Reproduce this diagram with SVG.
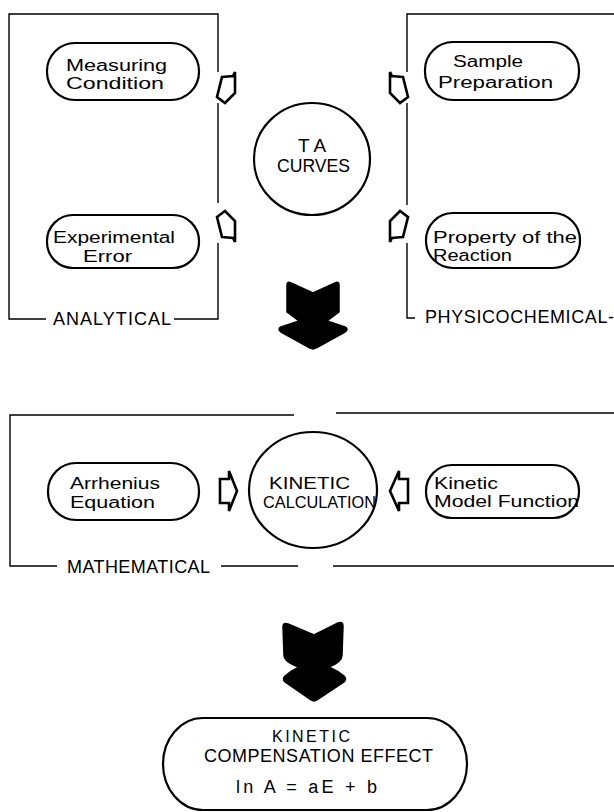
<svg xmlns="http://www.w3.org/2000/svg" width="614" height="812" viewBox="0 0 614 812">
<style>
.pill{fill:#fff;stroke:#000;stroke-width:2.2}
.frame{fill:none;stroke:#000;stroke-width:1.4}
.t{font-family:"Liberation Sans","DejaVu Sans",sans-serif;font-size:18px;fill:#000}
.s{font-size:16px}
.oa{fill:#fff;stroke:#000;stroke-width:2.6;stroke-linejoin:miter}
.ba{fill:#000;stroke:#000;stroke-width:1.5;stroke-linejoin:round}
</style>
<rect width="614" height="812" fill="#fff"/>
<g id="frames">
<path class="frame" d="M218,72 V14 H9 V319 H46 M174,319 H218 V243 M218,203 V103"/>
<text class="t" x="53" y="325" textLength="118">ANALYTICAL</text>
<path class="frame" d="M407,72 V14 H614 M407,103 V205 M407,243 V318 H415"/>
<text class="t" x="425" y="323" textLength="189">PHYSICOCHEMICAL-</text>
<path class="frame" d="M294,415 H10 V566 H57 M221,566 H298 M336,413 H614 M333,566 H614"/>
<text class="t" x="67" y="573" textLength="143">MATHEMATICAL</text>
</g>
<g id="connectors">
<polygon class="oa" points="222,77 233,76 235,72 235,93 225,103 217,97"/>
<polygon class="oa" points="222,237 233,238 235,242 235,221 225,211 217,217"/>
<polygon class="oa" points="403,77 392,76 390,72 390,93 400,103 408,97"/>
<polygon class="oa" points="403,237 392,238 390,242 390,221 400,211 408,217"/>
<polygon class="oa" points="220,479 229,479 229,471 237,491 229,511 229,503 220,503"/>
<polygon class="oa" points="408,479 399,479 399,471 390,491 399,511 399,503 408,503"/>
<path class="ba" d="M287,285 Q287,281 291,283 L313,293 L335,283 Q339,281 339,285 L339,312 L327,321 L345,327 Q349,329 345,332 L316,348 Q313,350 310,348 L281,332 Q277,329 281,327 L299,321 L287,312 Z"/>
<path class="ba" d="M283,627 Q283,622 288,624 L314,635 L338,623 Q343,621 343,626 L342,655 Q342,662 329,667 Q338,671 344,676 Q347,679 344,682 L317,700 Q314,702 311,700 L285,682 Q282,679 285,676 Q291,671 299,667 Q284,662 284,655 Z"/>
</g>
<g id="measuring">
<rect class="pill" x="47" y="43" width="152" height="57" rx="28" ry="28"/>
<text class="t s" x="66" y="71" textLength="101" lengthAdjust="spacingAndGlyphs">Measuring</text>
<text class="t s" x="66" y="89" textLength="98" lengthAdjust="spacingAndGlyphs">Condition</text>
</g>
<g id="experimental">
<rect class="pill" x="47" y="215" width="152" height="53" rx="26" ry="26"/>
<text class="t s" x="53" y="243" textLength="122" lengthAdjust="spacingAndGlyphs">Experimental</text>
<text class="t s" x="83" y="262" textLength="49" lengthAdjust="spacingAndGlyphs">Error</text>
</g>
<g id="sample">
<rect class="pill" x="425" y="42" width="154" height="58" rx="28" ry="28"/>
<text class="t s" x="453" y="67" textLength="70" lengthAdjust="spacingAndGlyphs">Sample</text>
<text class="t s" x="438" y="88" textLength="115" lengthAdjust="spacingAndGlyphs">Preparation</text>
</g>
<g id="property">
<rect class="pill" x="426" y="213" width="154" height="55" rx="27" ry="27"/>
<text class="t s" x="433" y="243" textLength="144" lengthAdjust="spacingAndGlyphs">Property of the</text>
<text class="t s" x="433" y="261" textLength="79" lengthAdjust="spacingAndGlyphs">Reaction</text>
</g>
<g id="ta-curves">
<ellipse class="pill" cx="312" cy="159" rx="58" ry="56"/>
<text class="t" x="298" y="152" font-size="20" textLength="28" lengthAdjust="spacingAndGlyphs">T A</text>
<text class="t" x="277" y="172" font-size="20" textLength="73" lengthAdjust="spacingAndGlyphs">CURVES</text>
</g>
<g id="arrhenius">
<rect class="pill" x="48" y="463" width="151" height="57" rx="28" ry="28"/>
<text class="t s" x="70" y="489" textLength="90" lengthAdjust="spacingAndGlyphs">Arrhenius</text>
<text class="t s" x="70" y="508" textLength="85" lengthAdjust="spacingAndGlyphs">Equation</text>
</g>
<g id="kinetic-calc">
<ellipse class="pill" cx="313" cy="490" rx="64" ry="58"/>
<text class="t s" x="269" y="489" textLength="81" lengthAdjust="spacingAndGlyphs">KINETIC</text>
<text class="t s" x="263" y="508" textLength="113" lengthAdjust="spacingAndGlyphs">CALCULATION</text>
</g>
<g id="model-function">
<rect class="pill" x="426" y="465" width="153" height="53" rx="26" ry="26"/>
<text class="t s" x="434" y="489" textLength="64" lengthAdjust="spacingAndGlyphs">Kinetic</text>
<text class="t s" x="434" y="507" textLength="145" lengthAdjust="spacingAndGlyphs">Model Function</text>
</g>
<g id="compensation">
<rect class="pill" x="163" y="718" width="304" height="92" rx="40" ry="46"/>
<text class="t s" x="272" y="742" textLength="78">KINETIC</text>
<text class="t" x="204" y="762" font-size="17" textLength="229">COMPENSATION EFFECT</text>
<text class="t" x="236" y="793" textLength="141">ln A =  aE + b</text>
</g>
</svg>
